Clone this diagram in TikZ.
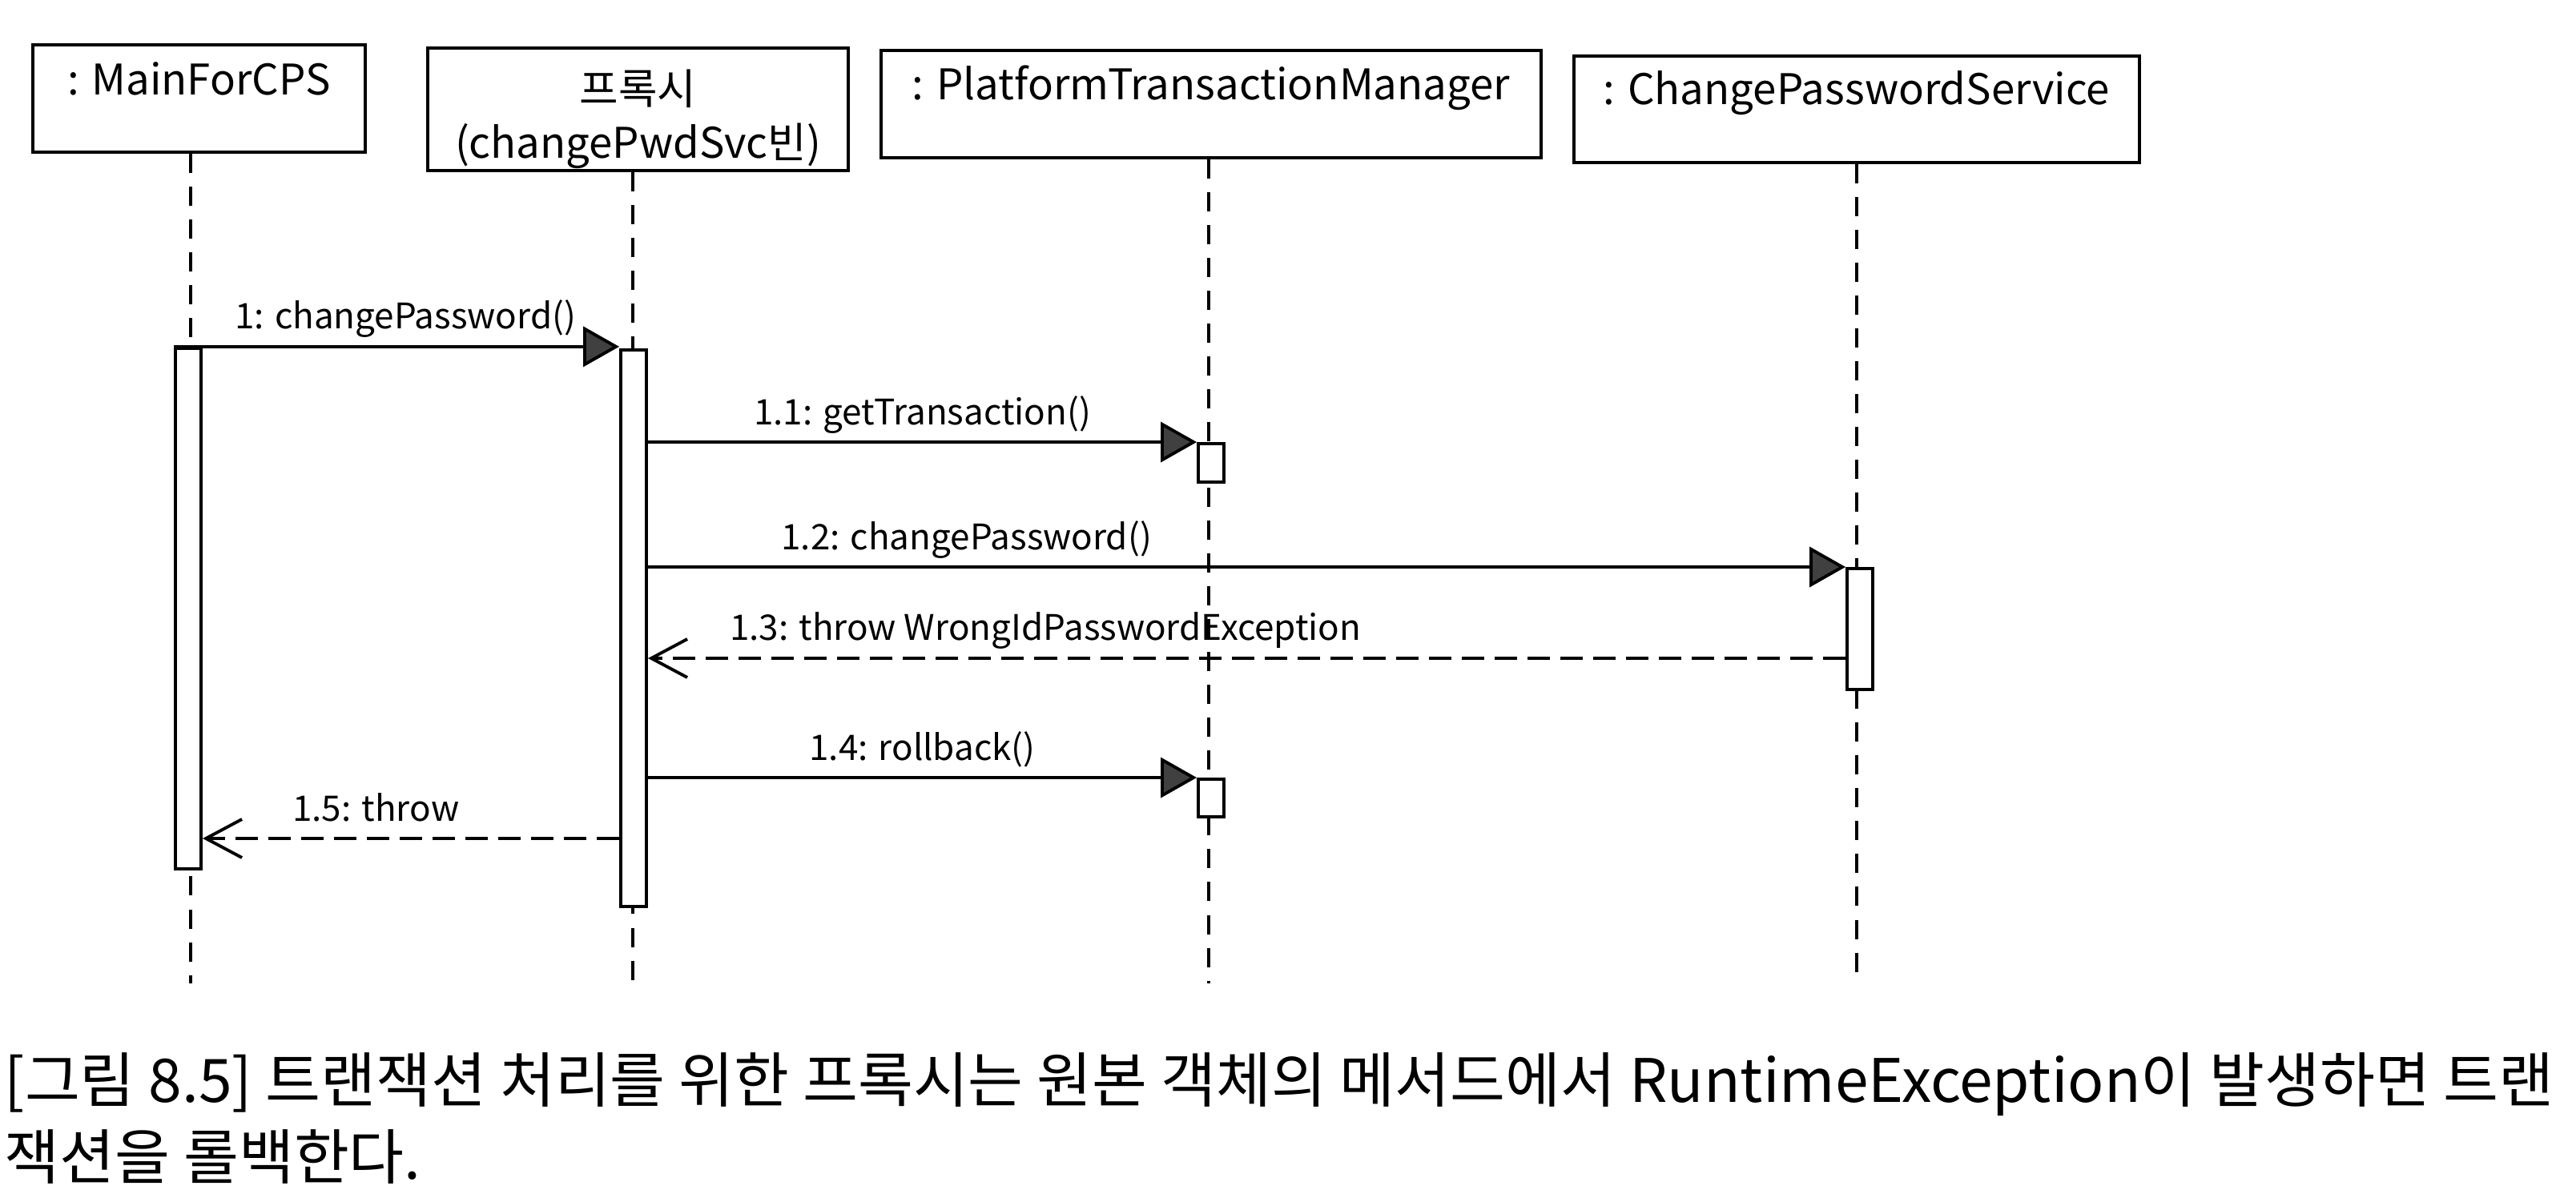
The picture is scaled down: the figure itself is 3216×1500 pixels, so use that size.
\documentclass[tikz,border=0pt]{standalone}
\usepackage{fontspec}
\setmainfont{Noto Sans CJK KR}
\usetikzlibrary{arrows.meta,positioning}

\begin{document}
\begin{tikzpicture}[x=0.01cm,y=-0.01cm,
  headbox/.style={draw,line width=1.1pt,inner sep=0pt},
  headtext/.style={anchor=north,inner sep=0pt,align=center,font=\fontsize{15}{19}\selectfont},
  lifeline/.style={line width=0.9pt,dash pattern=on 0.24cm off 0.17cm},
  actbox/.style={draw,fill=white,line width=1.1pt,minimum width=0.32cm,inner sep=0pt},
  call/.style={line width=1.1pt,-{Triangle[length=0.45cm,width=0.5cm,fill=black!75]}},
  reply/.style={line width=1.1pt,dash pattern=on 0.28cm off 0.13cm,-{Straight Barb[length=0.45cm,width=0.48cm]}},
  msg/.style={anchor=base,yshift=0.22cm,inner sep=0pt,font=\fontsize{12.5}{15}\selectfont},
  caption/.style={anchor=base west,inner sep=0pt,font=\fontsize{21.3}{26}\selectfont}]

\useasboundingbox (0,0) rectangle (3216,1500);

%% heads: name/left/top/right/bottom/text offset/lifeline x/text
\foreach \n/\l/\t/\r/\b/\dy/\lx/\txt in {
  main/41/56/456/190/23/238/{: MainForCPS},
  proxy/534/60/1059/213/28/790/{프록시\\(changePwdSvc빈)},
  ptm/1100/63/1924/197/20/1509/{: PlatformTransactionManager},
  cps/1965/70/2671/203/20/2318/{: ChangePasswordService}}
{
  \node[headbox,minimum width={(\r-\l)*0.01cm},minimum height={(\b-\t)*0.01cm},
        label={[headtext,yshift=-\dy*0.01cm]north:{\txt}}]
        (h\n) at ({(\l+\r)/2},{(\t+\b)/2}) {};
  \coordinate (e\n) at (\lx,1228);
  \draw[lifeline] (h\n.south -| e\n) -- (e\n);
}

%% activations
\node[actbox,minimum height=6.5cm]   (amain)  at (235,760)  {};
\node[actbox,minimum height=6.95cm]  (aproxy) at (791,784.5) {};
\node[actbox,minimum height=0.48cm]  (aptm1)  at (1512,578) {};
\node[actbox,minimum height=0.47cm]  (aptm2)  at (1512,996.5) {};
\node[actbox,minimum height=1.51cm]  (acps)   at (2322,785.5) {};

%% messages
\draw[call] (amain.north west) -- (amain.north west -| aproxy.west)
  node[msg,pos=0.52] {1: changePassword()};
\draw[call] (aptm1.north -| aproxy.east) -- (aptm1.north west)
  node[msg,pos=0.5] {1.1: getTransaction()};
\draw[call] (acps.north -| aproxy.east) -- (acps.north west)
  node[msg,pos=0.266] {1.2: changePassword()};
\draw[reply] (acps.west |- 0,822) -- (aproxy.east |- 0,822)
  node[msg,pos=0.668] {1.3: throw WrongIdPasswordException};
\draw[call] (aptm2.north -| aproxy.east) -- (aptm2.north west)
  node[msg,pos=0.5] {1.4: rollback()};
\draw[reply] (aproxy.west |- 0,1047) -- (amain.east |- 0,1047)
  node[msg,pos=0.584] {1.5: throw};

%% caption
\node[caption] (cap1) at (5,1376) {[그림 8.5] 트랜잭션 처리를 위한 프록시는 원본 객체의 메서드에서 RuntimeException이 발생하면 트랜};
\node[caption] (cap2) at (5,1472) {잭션을 롤백한다.};
\end{tikzpicture}
\end{document}
